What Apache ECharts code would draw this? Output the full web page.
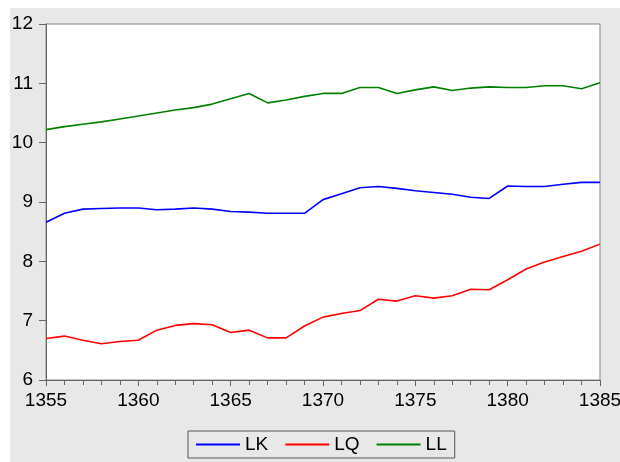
<!DOCTYPE html>
<html>
<head>
<meta charset="utf-8">
<script src="https://cdn.jsdelivr.net/npm/echarts@6/dist/echarts.min.js"></script>
<style>
body{margin:0;padding:0;background:#fff;}
#chart{width:620px;height:462px;}
</style>
</head>
<body>
<div id="chart"></div>
<script>
var years = [1355,1356,1357,1358,1359,1360,1361,1362,1363,1364,1365,1366,1367,1368,1369,1370,
	1371,1372,1373,1374,1375,1376,1377,1378,1379,1380,1381,1382,1383,1384,1385];
var lk = [8.66,8.81,8.88,8.89,8.90,8.90,8.87,8.88,8.90,8.88,8.84,8.83,8.81,8.81,8.81,9.04,
	9.14,9.24,9.26,9.23,9.19,9.16,9.13,9.08,9.06,9.27,9.26,9.26,9.30,9.33,9.33];
var lq = [6.70,6.74,6.67,6.61,6.65,6.67,6.84,6.92,6.95,6.93,6.80,6.84,6.71,6.71,6.91,7.06,
	7.12,7.17,7.36,7.33,7.42,7.38,7.42,7.53,7.52,7.69,7.87,7.99,8.08,8.17,8.29];
var ll = [10.22,10.27,10.31,10.35,10.40,10.45,10.50,10.55,10.59,10.65,10.74,10.83,10.67,10.72,10.78,10.83,
	10.83,10.93,10.93,10.83,10.89,10.94,10.88,10.92,10.94,10.93,10.93,10.96,10.96,10.91,11.01];
var seriesNames = ['LK','LQ','LL'];
var seriesColors = ['#0000ff','#ff0000','#008000'];

function pairs(vals){
	var out = [];
	for(var i=0;i<years.length;i++){
		out.push([years[i], vals[i]]);
	}
	return out;
};

function lineSeries(idx, vals){
	return {
		name: seriesNames[idx],
		type: 'line',
		symbol: 'none',
		data: pairs(vals),
		lineStyle: {color: seriesColors[idx], width: 1.6},
		itemStyle: {color: seriesColors[idx]},
		animation: false
	};
};

var chart = echarts.init(document.getElementById('chart'));
var option = {
	backgroundColor: '#fff',
	textStyle: {fontFamily: 'Liberation Sans, Arial, sans-serif'},
	// 灰色底板
	graphic: [{
		type: 'rect',
		z: -10,
		shape: {x: 10, y: 8, width: 610, height: 454},
		style: {fill: '#e8e8e8'}
	}],
	grid: {
		left: 46, top: 24, right: 20, bottom: 82,
		outerBoundsMode: 'none',
		show: true,
		backgroundColor: '#fff',
		borderColor: '#888',
		borderWidth: 1
	},
	legend: {
		data: seriesNames,
		left: 188,
		top: 431,
		padding: [4, 8, 4, 8],
		icon: 'rect',
		itemWidth: 44,
		itemHeight: 2,
		itemGap: 17,
		borderColor: '#555',
		borderWidth: 1,
		borderRadius: 0,
		textStyle: {fontSize: 19, color: '#000', fontFamily: 'Liberation Sans, Arial, sans-serif'}
	},
	xAxis: {
		type: 'value',
		min: 1355,
		max: 1385,
		interval: 5,
		axisLine: {lineStyle: {color: '#666'}},
		axisTick: {show: true, inside: false, length: 6, lineStyle: {color: '#666'}},
		minorTick: {show: true, splitNumber: 5, length: 5, lineStyle: {color: '#666'}},
		splitLine: {show: false},
		axisLabel: {fontSize: 19, color: '#000', margin: 11, formatter: function(v){return String(v);}}
	},
	yAxis: {
		type: 'value',
		min: 6,
		max: 12,
		interval: 1,
		axisLine: {show: true, lineStyle: {color: '#666'}},
		axisTick: {show: true, inside: false, length: 7, lineStyle: {color: '#666'}},
		splitLine: {show: false},
		axisLabel: {fontSize: 19, color: '#000', margin: 13}
	},
	series: [lineSeries(0, lk), lineSeries(1, lq), lineSeries(2, ll)]
};
chart.setOption(option);
</script>
</body>
</html>
